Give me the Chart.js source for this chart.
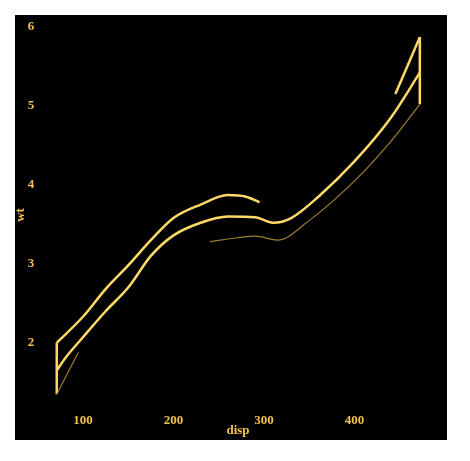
<!DOCTYPE html>
<html>
<head>
<meta charset="utf-8">
<script src="https://cdn.jsdelivr.net/npm/chart.js@4"></script>
<style>
  body { margin: 0; background: #fff; }
  #wrap { width: 470px; height: 461px; }
</style>
</head>
<body>
<div id="wrap"><canvas id="chart"></canvas></div>
<script>
// x ticks / y ticks
const xTicks = [100, 200, 300, 400];
const yTicks = [2, 3, 4, 5, 6];

// smooth fit
const fitX = [71.1, 80, 100, 125, 150, 175, 200, 230, 260, 290, 310, 330, 360, 400, 440, 472];
const fitY = [1.65, 1.8, 2.07, 2.4, 2.7, 3.1, 3.36, 3.52, 3.6, 3.59, 3.52, 3.58, 3.85, 4.3, 4.85, 5.42];

// upper band (two visible pieces)
const upAX = [71.1, 100, 125, 150, 175, 200, 230, 260, 280, 295];
const upAY = [2.0, 2.33, 2.68, 2.98, 3.3, 3.58, 3.75, 3.87, 3.85, 3.78];
const upBX = [445, 472];
const upBY = [5.15, 5.87];

// lower band (two visible pieces)
const loAX = [71.1, 95];
const loAY = [1.35, 1.88];
const loBX = [240, 270, 290, 315, 350, 400, 440, 472];
const loBY = [3.28, 3.33, 3.35, 3.3, 3.55, 4.05, 4.55, 5.02];

// ribbon end edges
const edgeLX = [71.1, 71.1];
const edgeLY = [1.35, 2.0];
const edgeRX = [472, 472];
const edgeRY = [5.02, 5.87];

const gold = '#ffd966';
const dim = '#9c7f2f';
const txt = '#f0c050';

function pts(xs, ys) { return xs.map((x, i) => ({ x: x, y: ys[i] })); }
function line(xs, ys, color, width) {
    return {
        data: pts(xs, ys), showLine: true, pointRadius: 0,
        borderColor: color, borderWidth: width,
        cubicInterpolationMode: 'monotone', fill: false
    };
}

const panel = {
    id: 'panel',
    beforeDraw(chart) {
        const { ctx, chartArea: a } = chart;
        ctx.save();
        ctx.fillStyle = '#000';
        ctx.fillRect(a.left, a.top, a.right - a.left, a.bottom - a.top);
        ctx.restore();
    },
    afterDraw(chart) {
        const { ctx, scales } = chart;
        ctx.save();
        ctx.fillStyle = txt;
        ctx.font = 'bold 13px "Liberation Serif", serif';
        ctx.textAlign = 'center';
        ctx.textBaseline = 'middle';
        xTicks.forEach(v => ctx.fillText(v, scales.x.getPixelForValue(v), 421));
        yTicks.forEach(v => ctx.fillText(v, 31, scales.y.getPixelForValue(v)));
        ctx.fillText('disp', 238, 431);
        ctx.translate(21, 215);
        ctx.rotate(-Math.PI / 2);
        ctx.fillText('wt', 0, 0);
        ctx.restore();
    }
};

new Chart(document.getElementById('chart'), {
    type: 'scatter',
    data: {
        datasets: [
            line(loAX, loAY, dim, 1.2),
            line(loBX, loBY, dim, 1.2),
            line(edgeLX, edgeLY, gold, 2.5),
            line(edgeRX, edgeRY, gold, 2.5),
            line(upAX, upAY, gold, 2.5),
            line(upBX, upBY, gold, 2.5),
            line(fitX, fitY, gold, 2.5)
        ]
    },
    options: {
        responsive: true,
        maintainAspectRatio: false,
        animation: false,
        layout: { padding: { left: 15, top: 15, right: 23, bottom: 21 } },
        scales: {
            x: { type: 'linear', min: 25, max: 502, display: false },
            y: { type: 'linear', min: 0.77, max: 6.15, display: false }
        },
        plugins: { legend: { display: false }, tooltip: { enabled: false } }
    },
    plugins: [panel]
});
</script>
</body>
</html>
